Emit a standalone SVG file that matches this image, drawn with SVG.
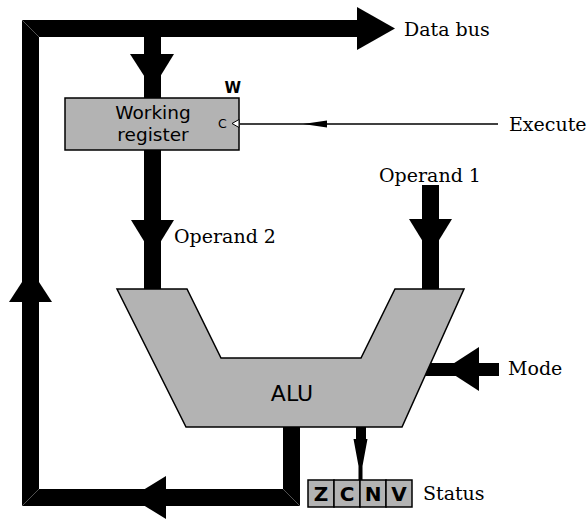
<svg xmlns="http://www.w3.org/2000/svg" width="588" height="519" viewBox="0 0 588 519">
  <style>
    .bus { fill: #000; }
    .seam { stroke: #666; stroke-width: 0.8; fill: none; }
    .unit { fill: #b3b3b3; stroke: #000; stroke-width: 1.5; }
    .sans { font-family: "DejaVu Sans", "Liberation Sans", sans-serif; fill: #000; }
    .serif { font-family: "DejaVu Serif", "Liberation Serif", serif; font-size: 19px; fill: #000; }
    .flag { font-family: "DejaVu Sans", "Liberation Sans", sans-serif; font-weight: bold; font-size: 20px; text-anchor: middle; fill: #000; }
  </style>

  <!-- wide data paths and their arrowheads -->
  <g id="connectors">
    <!-- data bus: left riser and top run -->
    <rect class="bus" x="22" y="20" width="335" height="17"/>
    <rect class="bus" x="22" y="20" width="17" height="486"/>
    <polygon class="bus" points="357,7 395,28.5 357,50"/>
    <line class="seam" x1="22" y1="20" x2="39" y2="37"/>
    <!-- up arrow on the left riser -->
    <polygon class="bus" points="9,302 52,302 30.5,269"/>

    <!-- bus into the working register -->
    <rect class="bus" x="144" y="37" width="17" height="61"/>
    <polygon class="bus" points="130,54 174,54 152.5,89"/>

    <!-- working register to ALU (operand 2) -->
    <rect class="bus" x="144" y="150" width="17" height="140"/>
    <polygon class="bus" points="131,220 174,220 152.5,255"/>

    <!-- operand 1 into ALU -->
    <rect class="bus" x="422" y="185" width="17" height="105"/>
    <polygon class="bus" points="409,219 452,219 430.5,254"/>

    <!-- mode input -->
    <rect class="bus" x="425" y="363" width="74" height="13"/>
    <polygon class="bus" points="479,347 479,391 445,369"/>

    <!-- ALU result back to the bus -->
    <rect class="bus" x="283" y="426" width="17" height="80"/>
    <rect class="bus" x="22" y="489" width="278" height="17"/>
    <polygon class="bus" points="166,476 166,519 131,497.5"/>
    <line class="seam" x1="22" y1="506" x2="39" y2="489"/>
    <line class="seam" x1="283" y1="489" x2="300" y2="506"/>

    <!-- ALU to status flags -->
    <polygon class="bus" points="356,426 366,426 366,439 367.5,439 362.5,466 362.5,481 358.5,481 358.5,466 353.5,439 356,439"/>

    <!-- execute clock line -->
    <line x1="240" y1="124" x2="498" y2="124" stroke="#000" stroke-width="1.5"/>
    <polygon points="303,124 327,120.5 327,127.5" fill="#000"/>
  </g>

  <!-- working register -->
  <g id="working-register">
    <rect class="unit" x="65" y="98" width="174" height="52"/>
    <text class="sans" x="153" y="119" font-size="18.5" text-anchor="middle">Working</text>
    <text class="sans" x="153" y="141" font-size="18.5" text-anchor="middle">register</text>
    <text class="sans" x="241" y="93" font-size="15" font-weight="bold" text-anchor="end">W</text>
    <text class="sans" x="218" y="128" font-size="12.5">C</text>
    <polygon points="239,119.5 239,127.5 232,123.5" fill="#fff" stroke="#000" stroke-width="1"/>
  </g>

  <!-- arithmetic logic unit -->
  <g id="alu">
    <polygon class="unit" points="117,289 187,289 221,358 361,358 395,289 464,289 402,427 186,427"/>
    <text class="sans" x="292" y="401" font-size="22" text-anchor="middle">ALU</text>
  </g>

  <!-- status flags -->
  <g id="status">
    <rect class="unit" x="308" y="480" width="26" height="27" stroke-width="1"/>
    <rect class="unit" x="334" y="480" width="26" height="27" stroke-width="1"/>
    <rect class="unit" x="360" y="480" width="26" height="27" stroke-width="1"/>
    <rect class="unit" x="386" y="480" width="26" height="27" stroke-width="1"/>
    <text class="flag" x="321" y="501">Z</text>
    <text class="flag" x="347" y="501">C</text>
    <text class="flag" x="373" y="501">N</text>
    <text class="flag" x="399" y="501">V</text>
    <text class="serif" x="423" y="500">Status</text>
  </g>

  <!-- external signal labels -->
  <g id="labels">
    <text class="serif" x="404" y="36">Data bus</text>
    <text class="serif" x="509" y="131">Execute</text>
    <text class="serif" x="430" y="182" text-anchor="middle">Operand 1</text>
    <text class="serif" x="174" y="243">Operand 2</text>
    <text class="serif" x="508" y="375">Mode</text>
  </g>
</svg>
